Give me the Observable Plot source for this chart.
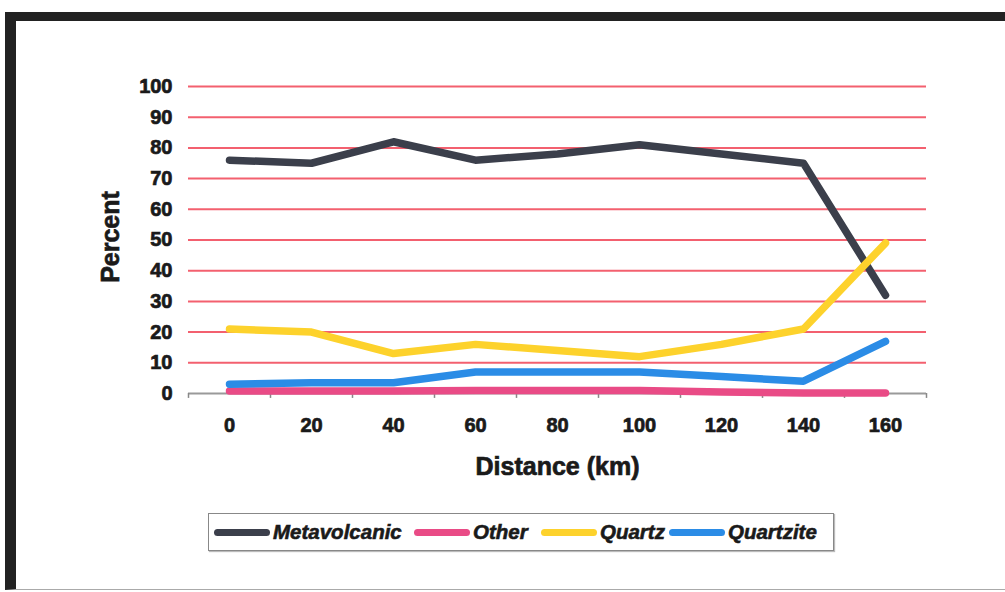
<!DOCTYPE html>
<html>
<head>
<meta charset="utf-8">
<script src="https://cdn.jsdelivr.net/npm/d3@7"></script>
<script src="https://cdn.jsdelivr.net/npm/@observablehq/plot@0.6"></script>
<style>
  html, body { margin: 0; padding: 0; background: #fff; }
  body { width: 1005px; height: 592px; position: relative; overflow: hidden; font-family: "Liberation Sans", Arial, sans-serif; }
  #frame { position: absolute; left: 5px; top: 12px; width: 1100px; height: 568px; border-left: 11px solid #222; border-top: 9px solid #222; border-bottom: 1px solid #aaa; }
  #chart { position: absolute; left: 0; top: 0; }
  #chart svg text { stroke: #1a1a1a; stroke-width: 0.7px; }
  #legend { position: absolute; left: 208px; top: 513px; width: 624px; height: 36px; border: 1px solid #888; box-shadow: 1px 1px 1px #bbb; background: #fff; }
  .sw { position: absolute; top: 15px; width: 56px; height: 7px; border-radius: 4px; }
  .lab { position: absolute; top: 6px; font-weight: bold; font-style: italic; font-size: 20.5px; color: #1a1a1a; -webkit-text-stroke: 0.6px #1a1a1a; white-space: nowrap; }
</style>
</head>
<body>
<div id="frame"></div>
<div id="chart"></div>
<div id="legend"></div>
<script>
const distances = [0, 20, 40, 60, 80, 100, 120, 140, 160];
const metavolcanic = [76, 75, 82, 76, 78, 81, 78, 75, 32];
const other = [0.8, 0.8, 0.8, 1, 1, 1, 0.5, 0.2, 0.2];
const quartz = [21, 20, 13, 16, 14, 12, 16, 21, 49];
const quartzite = [3, 3.5, 3.5, 7, 7, 7, 5.5, 4, 17];
const seriesNames = ["Metavolcanic", "Other", "Quartz", "Quartzite"];
const seriesColors = ["#3b3f4b", "#e94b86", "#fdd22c", "#2b8ce6"];
const yTicks = [0, 10, 20, 30, 40, 50, 60, 70, 80, 90, 100];
const gridValues = [10, 20, 30, 40, 50, 60, 70, 80, 90, 100];

const seriesValues = [metavolcanic, other, quartz, quartzite];
const rows = [];
seriesNames.forEach((name, s) => {
  distances.forEach((d, i) => rows.push({series: name, distance: d, value: seriesValues[s][i]}));
});
const step = distances[1] - distances[0];
const boundaries = [...distances.map(d => d - step / 2), distances[distances.length - 1] + step / 2];

const plot = Plot.plot({
  width: 1005,
  height: 500,
  marginLeft: 188,
  marginRight: 79,
  marginTop: 86,
  marginBottom: 107,
  style: { fontFamily: "'Liberation Sans', Arial, sans-serif", fontSize: "20px", fontWeight: "bold", color: "#1a1a1a", background: "transparent" },
  x: { domain: [boundaries[0], boundaries[boundaries.length - 1]], ticks: distances, tickSize: 0, tickPadding: 24, tickFormat: d => String(d), label: null },
  y: { domain: [0, 100], ticks: yTicks, tickSize: 0, tickPadding: 16, label: null },
  color: { domain: seriesNames, range: seriesColors },
  marks: [
    Plot.ruleY(gridValues, { stroke: "#f3606f", strokeWidth: 2 }),
    Plot.ruleY([0], { stroke: "#9a9a9a", strokeWidth: 2 }),
    Plot.ruleX(boundaries, { x: d => d, y1: 0, y2: -1.6, stroke: "#888", strokeWidth: 1.5 }),
    Plot.line(rows, { x: "distance", y: "value", z: "series", stroke: "series", strokeWidth: 7.5, strokeLinejoin: "round", strokeLinecap: "round" }),
    Plot.text(["Distance (km)"], { frameAnchor: "bottom", dy: 73, lineAnchor: "middle", textAnchor: "middle", text: d => d, fontSize: 25, fontWeight: "bold", fill: "#1a1a1a" }),
    Plot.text(["Percent"], { frameAnchor: "left", dx: -78, dy: -3, lineAnchor: "middle", textAnchor: "middle", rotate: -90, text: d => d, fontSize: 25, fontWeight: "bold", fill: "#1a1a1a" })
  ]
});
document.getElementById("chart").appendChild(plot);

const legend = document.getElementById("legend");
const swatchLefts = [5, 205, 332, 460];
seriesNames.forEach((name, i) => {
  const sw = document.createElement("div");
  sw.className = "sw";
  sw.style.background = seriesColors[i];
  sw.style.left = swatchLefts[i] + "px";
  const lab = document.createElement("span");
  lab.className = "lab";
  lab.textContent = name;
  lab.style.left = (swatchLefts[i] + 59) + "px";
  legend.appendChild(sw);
  legend.appendChild(lab);
});
</script>
</body>
</html>
